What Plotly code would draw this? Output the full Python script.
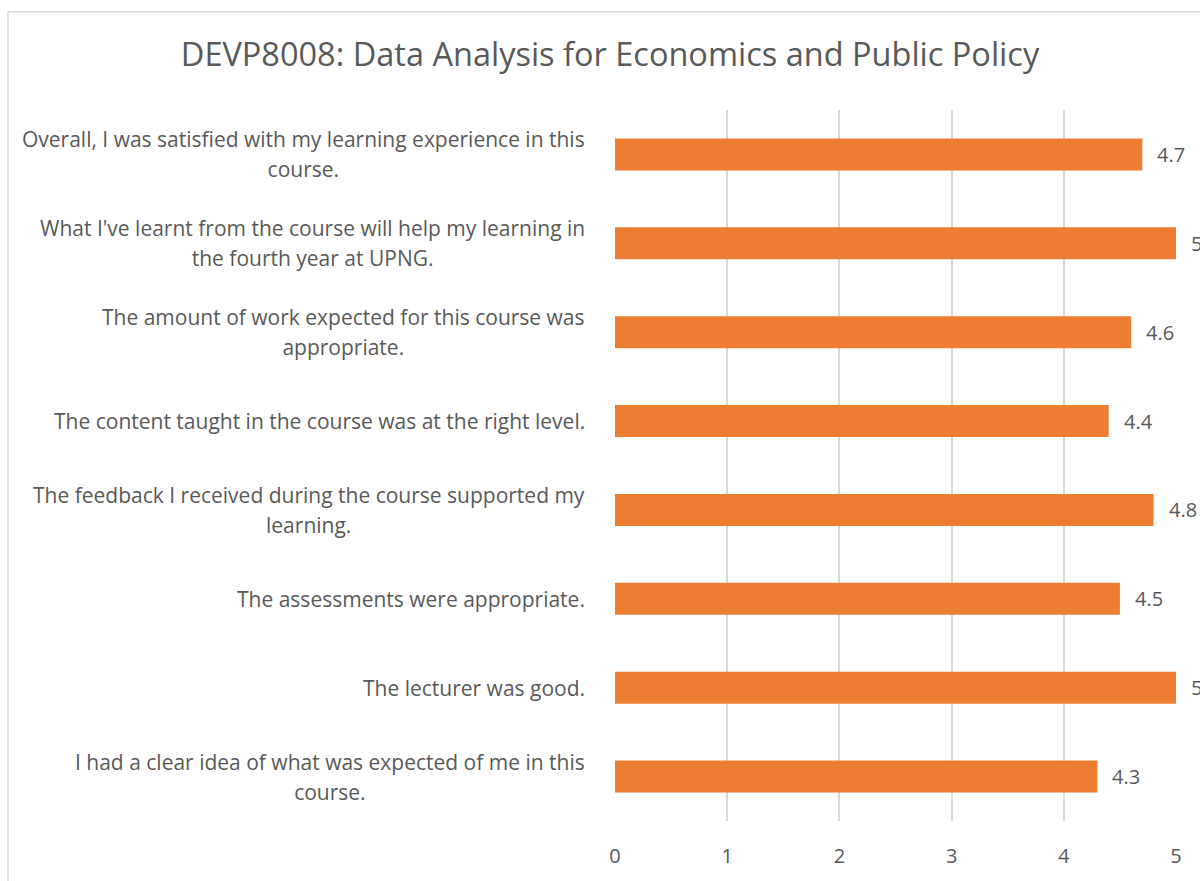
import plotly.graph_objects as go

categories = [
    "Overall, I was satisfied with my learning experience in this<br>course.",
    "What I've learnt from the course will help my learning in<br>the fourth year at UPNG.",
    "The amount of work expected for this course was<br>appropriate.",
    "The content taught in the course was at the right level.",
    "The feedback I received during the course supported my<br>learning.",
    "The assessments were appropriate.",
    "The lecturer was good.",
    "I had a clear idea of what was expected of me in this<br>course.",
]
values = [4.7, 5, 4.6, 4.4, 4.8, 4.5, 5, 4.3]
tick_vals = [0, 1, 2, 3, 4, 5]
title_text = "DEVP8008: Data Analysis for Economics and Public Policy"

W, H = 1200, 881
L, R, T, B = 615, 1176, 110, 827  # plot area pixels
FONT = "Open Sans"
GREY = "#595959"

fig = go.Figure()
fig.add_trace(go.Bar(
    x=values, y=list(range(len(categories))), orientation="h",
    marker=dict(color="#ED7D31", line=dict(width=0)),
    width=0.36, hoverinfo="skip",
))

annotations = []
for i, (c, v) in enumerate(zip(categories, values)):
    # outer font size sets the line spacing (~30px), inner span sets glyph size
    txt = "<br>".join("<span style='font-size:21px'>{}</span>".format(s)
                      for s in c.split("<br>"))
    annotations.append(dict(
        x=-28 / (R - L), xref="paper", y=i, yref="y",
        text=txt, showarrow=False, xanchor="right", yanchor="middle",
        align="center",
        font=dict(family=FONT, size=23, color=GREY),
    ))
    annotations.append(dict(
        x=v, xref="x", y=i, yref="y", text=f"{v:g}", showarrow=False,
        xanchor="left", yanchor="middle", xshift=13,
        font=dict(family=FONT, size=20, color=GREY),
    ))

pw, ph = R - L, B - T
shapes = [dict(
    type="rect", xref="paper", yref="paper",
    x0=(8 - L) / pw, x1=(1250 - L) / pw,
    y0=(B - 950) / ph, y1=(B - 11) / ph,
    line=dict(color="#D9D9D9", width=1.5), fillcolor="rgba(0,0,0,0)", layer="below",
)]

fig.update_layout(
    width=W, height=H,
    margin=dict(l=L, r=W - R, t=T, b=H - B),
    paper_bgcolor="white", plot_bgcolor="white",
    showlegend=False,
    title=dict(text=title_text, x=610 / W, xref="container", xanchor="center",
               y=1 - 55 / H, yref="container", yanchor="middle",
               font=dict(family=FONT, size=32.5, color=GREY)),
    xaxis=dict(range=[0, 5], tickvals=tick_vals, showgrid=True,
               gridcolor="#D9D9D9", gridwidth=1.5, zeroline=False,
               showline=False, ticks="", ticklabelstandoff=21,
               tickfont=dict(family=FONT, size=20, color=GREY)),
    yaxis=dict(range=[len(categories) - 0.5, -0.5], showticklabels=False,
               showgrid=False, zeroline=False, showline=False),
    annotations=annotations, shapes=shapes,
)

fig.write_html("out.html")
